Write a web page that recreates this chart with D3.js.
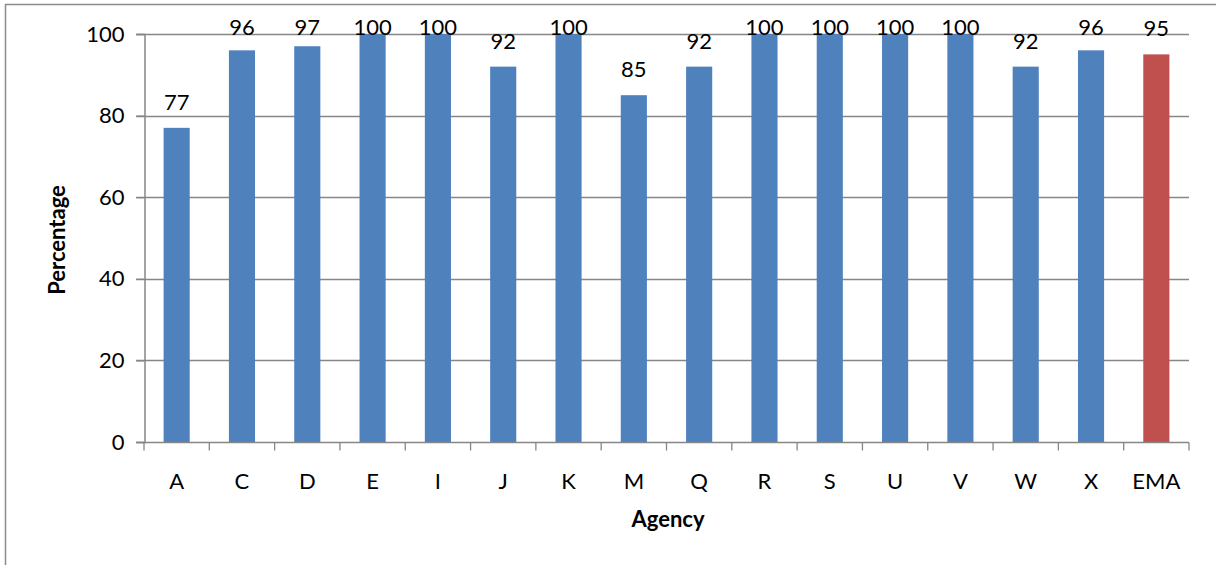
<!DOCTYPE html>
<html>
<head>
<meta charset="utf-8">
<script src="https://cdn.jsdelivr.net/npm/d3@7"></script>
<style>
  html, body { margin: 0; padding: 0; background: #fff; overflow: hidden; }
  svg { display: block; font-family: Lato, "Open Sans", sans-serif; }
</style>
</head>
<body>
<svg id="chart" width="1216" height="565"></svg>
<script>
// Data
const agencies = ['A', 'C', 'D', 'E', 'I', 'J', 'K', 'M', 'Q', 'R', 'S', 'U', 'V', 'W', 'X', 'EMA'];
const percentages = [77, 96, 97, 100, 100, 92, 100, 85, 92, 100, 100, 100, 100, 92, 96, 95];
const yTicks = [0, 20, 40, 60, 80, 100];
const highlight = 'EMA';

const svg = d3.select('#chart');
const m = { left: 144, right: 1189, top: 34, bottom: 442 };
const fs = 22;

// chart frame (clipped by the window on the right and bottom)
svg.append('rect')
  .attr('x', 5.5).attr('y', 4.5)
  .attr('width', 1240).attr('height', 600)
  .attr('fill', 'none').attr('stroke', '#8c8c8c').attr('stroke-width', 1.5);

const x = d3.scaleBand().domain(agencies).range([m.left, m.right]).paddingInner(0.6).paddingOuter(0.3);
const y = d3.scaleLinear().domain([0, 100]).range([m.bottom, m.top]);

// gridlines
svg.append('g')
  .selectAll('line').data(yTicks.filter(d => d > 0)).join('line')
  .attr('x1', m.left - 8).attr('x2', m.right)
  .attr('y1', d => Math.round(y(d)) + 0.5).attr('y2', d => Math.round(y(d)) + 0.5)
  .attr('stroke', '#868686').attr('stroke-width', 1.3);

// bars
svg.append('g')
  .selectAll('rect').data(agencies).join('rect')
  .attr('x', d => x(d))
  .attr('width', x.bandwidth())
  .attr('y', (d, i) => y(percentages[i]))
  .attr('height', (d, i) => y(0) - y(percentages[i]))
  .attr('fill', d => d === highlight ? '#C0504D' : '#4F81BD');

// value labels, kept inside the chart frame like Excel does
svg.append('g')
  .selectAll('text').data(agencies).join('text')
  .attr('x', d => x(d) + x.bandwidth() / 2)
  .attr('y', (d, i) => Math.max(y(percentages[i]) - 18, 35))
  .attr('text-anchor', 'middle')
  .attr('font-size', fs)
  .attr('fill', '#000')
  .text((d, i) => percentages[i]);

// y axis
const yAxis = svg.append('g')
  .attr('transform', `translate(${m.left + 0.5},0)`)
  .call(d3.axisLeft(y).tickValues(yTicks).tickSize(8).tickPadding(12));
yAxis.select('.domain').attr('stroke', '#868686').attr('stroke-width', 1.5);
yAxis.selectAll('.tick line').attr('stroke', '#868686').attr('stroke-width', 1.3);
yAxis.selectAll('.tick text').attr('font-size', fs).attr('fill', '#000')
  .attr('font-family', 'Lato, "Open Sans", sans-serif');

// x axis with ticks between categories
const xAxisG = svg.append('g').attr('transform', `translate(0,${m.bottom + 0.5})`);
xAxisG.append('line')
  .attr('x1', m.left - 8).attr('x2', m.right)
  .attr('stroke', '#868686').attr('stroke-width', 1.5);
const step = (m.right - m.left) / agencies.length;
xAxisG.selectAll('line.sep').data(d3.range(agencies.length + 1)).join('line')
  .attr('class', 'sep')
  .attr('x1', i => m.left + i * step).attr('x2', i => m.left + i * step)
  .attr('y1', 0).attr('y2', 8)
  .attr('stroke', '#868686').attr('stroke-width', 1.3);
xAxisG.selectAll('text').data(agencies).join('text')
  .attr('x', d => x(d) + x.bandwidth() / 2)
  .attr('y', 46)
  .attr('text-anchor', 'middle')
  .attr('font-size', fs)
  .attr('fill', '#000')
  .text(d => d);

// axis titles
svg.append('text')
  .attr('x', 668).attr('y', 527)
  .attr('text-anchor', 'middle')
  .attr('font-size', fs).attr('font-weight', 'bold')
  .text('Agency');

svg.append('text')
  .attr('transform', 'translate(65,240) rotate(-90)')
  .attr('text-anchor', 'middle')
  .attr('font-size', fs).attr('font-weight', 'bold')
  .text('Percentage');
</script>
</body>
</html>
